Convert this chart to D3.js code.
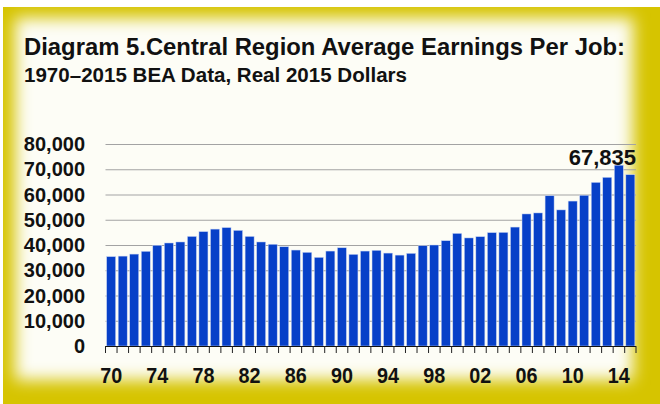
<!DOCTYPE html>
<html><head><meta charset="utf-8">
<script src="https://cdn.jsdelivr.net/npm/d3@7"></script>
<style>html,body{margin:0;padding:0;background:#fff;}svg{display:block;}</style>
</head><body>
<svg id="c" width="660" height="404"></svg>
<script>
const years = d3.range(1970, 2016);
const values = [35400,35600,36400,37500,39900,40800,41200,43400,45300,46300,
  46900,45800,43400,41200,40300,39300,38000,37100,35100,37600,
  38900,36300,37600,37900,36800,36000,36700,39700,40000,41700,
  44600,42800,43300,44900,45000,47100,52300,52700,59500,53900,
  57400,59700,64800,66800,71600,67835];
const yTicks = [0,10000,20000,30000,40000,50000,60000,70000,80000];
const xLabelYears = [1970,1974,1978,1982,1986,1990,1994,1998,2002,2006,2010,2014];
const title1 = "Diagram 5.Central Region Average Earnings Per Job:";
const title2 = "1970\u20132015 BEA Data, Real 2015 Dollars";
const lastLabel = "67,835";

const svg = d3.select("#c");
const defs = svg.append("defs");
const f = defs.append("filter").attr("id","blur").attr("x","-10%").attr("y","-10%").attr("width","120%").attr("height","120%");
f.append("feGaussianBlur").attr("stdDeviation", 8);
defs.append("clipPath").attr("id","frameClip").append("rect")
  .attr("x",3).attr("y",7).attr("width",700).attr("height",420);

const frame = svg.append("g").attr("clip-path","url(#frameClip)");
frame.append("rect").attr("x",3).attr("y",7).attr("width",700).attr("height",420).attr("fill","#d6c400");
frame.append("rect").attr("x",15).attr("y",18).attr("width",618).attr("height",362)
  .attr("fill","#fdfdf6").attr("filter","url(#blur)");

const font = "'Liberation Sans', Arial, Helvetica, sans-serif";

svg.append("text").attr("x",24).attr("y",55).text(title1)
  .attr("font-family",font).attr("font-weight","bold").attr("font-size",24)
  .attr("fill","#111").attr("textLength",601).attr("lengthAdjust","spacingAndGlyphs");
svg.append("text").attr("x",24).attr("y",82).text(title2)
  .attr("font-family",font).attr("font-weight","bold").attr("font-size",20)
  .attr("fill","#111").attr("textLength",383).attr("lengthAdjust","spacingAndGlyphs");

const x = d3.scaleBand().domain(years).range([105.5, 636]).paddingInner(0.22).paddingOuter(0.1);
const y = d3.scaleLinear().domain([0, 80000]).range([346, 144]);

// gridlines
svg.append("g").selectAll("line").data(yTicks.filter(d => d > 0)).join("line")
  .attr("x1",105.5).attr("x2",636).attr("y1",d => y(d)+0.5).attr("y2",d => y(d)+0.5)
  .attr("stroke","#a3a3a3").attr("stroke-width",1.2);

// y labels
svg.append("g").selectAll("text").data(yTicks).join("text")
  .attr("x",85).attr("y",d => y(d)+7).attr("text-anchor","end")
  .attr("font-family",font).attr("font-weight","bold").attr("font-size",20)
  .attr("fill","#111").text(d => d3.format(",")(d));

// bars
svg.append("g").selectAll("rect").data(years).join("rect")
  .attr("x",d => x(d)).attr("width",x.bandwidth())
  .attr("y",(d,i) => y(values[i])).attr("height",(d,i) => y(0) - y(values[i]))
  .attr("fill","#0740c8").attr("stroke","#c9d5f3").attr("stroke-width",0.5);

// x axis
const r0 = x.range()[0], step = x.step();
svg.append("line").attr("x1",r0).attr("x2",636).attr("y1",346.5).attr("y2",346.5)
  .attr("stroke","#111").attr("stroke-width",1.2);
svg.append("g").selectAll("line").data(d3.range(years.length+1)).join("line")
  .attr("x1",i => Math.min(636, r0 + i*step)).attr("x2",i => Math.min(636, r0 + i*step))
  .attr("y1",346).attr("y2",353).attr("stroke","#222").attr("stroke-width",1);
svg.append("g").selectAll("text").data(xLabelYears).join("text")
  .attr("x",d => x(d) + x.bandwidth()/2).attr("y",383).attr("text-anchor","middle")
  .attr("font-family",font).attr("font-weight","bold").attr("font-size",22)
  .attr("textLength",22).attr("lengthAdjust","spacingAndGlyphs")
  .attr("fill","#111").text(d => String(d % 100).padStart(2,"0"));

// value label
svg.append("text").attr("x",636).attr("y",165).attr("text-anchor","end")
  .attr("font-family",font).attr("font-weight","bold").attr("font-size",22)
  .attr("fill","#111").text(lastLabel);
</script>
</body></html>
